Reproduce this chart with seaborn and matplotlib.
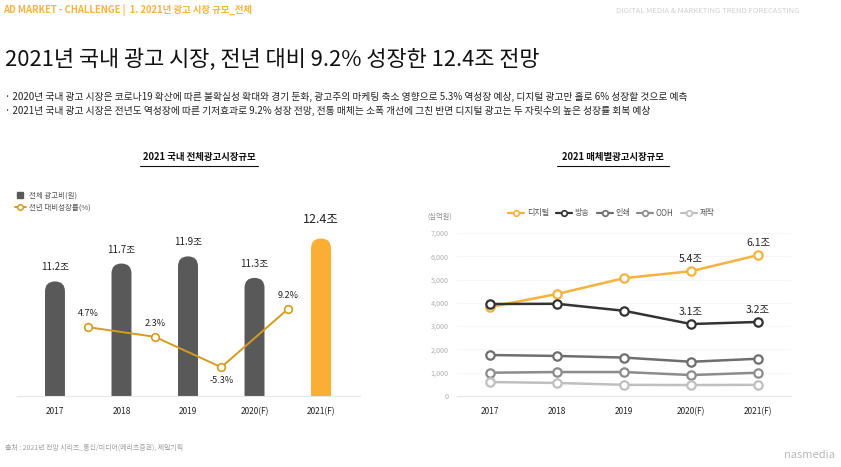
import numpy as np
import pandas as pd
import matplotlib
matplotlib.use('Agg')
from matplotlib import pyplot as plt
from matplotlib.patches import FancyBboxPatch
from matplotlib.lines import Line2D
import matplotlib.ticker as mtick
import seaborn as sns

# --- data ---
years = ['2017', '2018', '2019', '2020(F)', '2021(F)']
total_spend = [11.2, 11.7, 11.9, 11.3, 12.4]          # 조 원
total_labels = ['11.2조', '11.7조', '11.9조', '11.3조', '12.4조']
growth_years = ['2018', '2019', '2020(F)', '2021(F)']
growth_rate = [4.7, 2.3, -5.3, 9.2]                    # %
growth_labels = ['4.7%', '2.3%', '-5.3%', '9.2%']

media_names = ['디지털', '방송', '인쇄', 'OOH', '제작']
digital = [3820, 4380, 5060, 5360, 6050]
broadcast = [3950, 3960, 3660, 3090, 3180]
printed = [1760, 1720, 1650, 1470, 1600]
ooh = [1000, 1030, 1030, 900, 1000]
production = [600, 560, 480, 470, 480]
media_colors = ['#F5B23D', '#333333', '#6E6E6E', '#8C8C8C', '#BFBFBF']

W, H = 841, 467
sns.set_style('white')
plt.rcParams['font.family'] = ['Noto Sans CJK KR', 'DejaVu Sans']

fig = plt.figure(figsize=(W / 100, H / 100), dpi=100)
fig.patch.set_facecolor('white')


def px_axes(x0, x1, ytop, ybot):
    return fig.add_axes([x0 / W, 1 - ybot / H, (x1 - x0) / W, (ybot - ytop) / H])


def ftext(x, y, s, **kw):
    fig.text(x / W, 1 - y / H, s, **kw)


# --- header texts ---
ftext(3, 10, 'AD MARKET - CHALLENGE |  1. 2021년 광고 시장 규모_전체', fontsize=6.8,
      color='#F2B441', fontweight='bold', va='center')
ftext(800, 11, 'DIGITAL MEDIA & MARKETING TREND FORECASTING', fontsize=5.5,
      color='#D0D0D0', va='center', ha='right')
ftext(5, 60, '2021년 국내 광고 시장, 전년 대비 9.2% 성장한 12.4조 전망', fontsize=15.8,
      color='#111111', va='center')
ftext(5, 97, '· 2020년 국내 광고 시장은 코로나19 확산에 따른 불확실성 확대와 경기 둔화, 광고주의 마케팅 축소 영향으로 5.3% 역성장 예상, '
      '디지털 광고만 홀로 6% 성장할 것으로 예측', fontsize=7.0, color='#222222', va='center')
ftext(5, 111, '· 2021년 국내 광고 시장은 전년도 역성장에 따른 기저효과로 9.2% 성장 전망, 전통 매체는 소폭 개선에 그친 반면 '
      '디지털 광고는 두 자릿수의 높은 성장률 회복 예상', fontsize=7.0, color='#222222', va='center')
ftext(5, 448, '출처 : 2021년 전망 시리즈_통신/미디어(메리츠증권), 제일기획', fontsize=5,
      color='#A0A0A0', va='center')
ftext(835, 455, 'nasmedia', fontsize=8, color='#B8B8B8', va='center', ha='right')

# sub titles with underline
for cx, x0, x1, title in [(199, 140, 258, '2021 국내 전체광고시장규모'),
                          (613, 557, 669, '2021 매체별광고시장규모')]:
    ftext(cx, 157, title, fontsize=6.8, fontweight='bold', color='#111111',
          ha='center', va='center')
    fig.add_artist(Line2D([x0 / W, x1 / W], [1 - 166 / H, 1 - 166 / H],
                          color='#111111', lw=0.8))

# --- left chart: total ad spend bars ---
ax1 = px_axes(17, 360, 200, 396)
bar_df = pd.DataFrame({'year': years, 'spend': total_spend})
bar_colors = ['#595959'] * 4 + ['#FBAE34']
sns.barplot(data=bar_df, x='year', y='spend', hue='year', palette=bar_colors,
            width=0.3, saturation=1, legend=False, ax=ax1)
ax1.set_xlim(-0.571, 4.586)
ax1.set_ylim(8, 8 + 196 / 35.8)

# turn the bars into rounded-top bars
y_per_px = 1 / 35.8
x_per_px = 1 / 66.5
for p in list(ax1.patches):
    x, w, h = p.get_x(), p.get_width(), p.get_height()
    fc = p.get_facecolor()
    p.remove()
    r = w / 2
    fb = FancyBboxPatch((x, 7.0), w, h - 7.0, boxstyle=f'round,pad=0,rounding_size={r}',
                        mutation_aspect=y_per_px / x_per_px, fc=fc, ec='none', zorder=2)
    ax1.add_patch(fb)

for i, (v, lab) in enumerate(zip(total_spend, total_labels)):
    big = i == len(total_spend) - 1
    ax1.text(i, v + (12 if big else 9) * y_per_px, lab, ha='center', va='bottom',
             fontsize=9 if big else 7, color='#222222', clip_on=False)

ax1.set_xlabel('')
ax1.set_ylabel('')
ax1.set_yticks([])
ax1.tick_params(axis='x', length=0, labelsize=6, colors='#222222', pad=8)
for s in ['top', 'right', 'left']:
    ax1.spines[s].set_visible(False)
ax1.spines['bottom'].set_color('#E6E6E6')
ax1.spines['bottom'].set_linewidth(0.8)
ax1.patch.set_alpha(0)

# growth-rate line on a twin axis
ax1b = ax1.twinx()
pos = [years.index(y) - 0.5 for y in growth_years]
gr_df = pd.DataFrame({'pos': pos, 'rate': growth_rate})
sns.lineplot(data=gr_df, x='pos', y='rate', ax=ax1b, color='#D49C1E', lw=1.4,
             marker='o', markersize=5.5, markerfacecolor='white',
             markeredgecolor='#D49C1E', markeredgewidth=1.2, zorder=4)
ax1b.set_ylim(-12.5, 36.5)
ax1b.set_xlim(-0.571, 4.586)
for xp, v, lab in zip(pos, growth_rate, growth_labels):
    if v < 0:
        ax1b.text(xp, v - 2.3, lab, ha='center', va='top', fontsize=6.5, color='#222222')
    else:
        ax1b.text(xp, v + 2.3, lab, ha='center', va='bottom', fontsize=6.5,
                  color='#222222')
ax1b.axis('off')

# left legend
h1 = Line2D([], [], marker='s', ls='none', color='#595959', markersize=5)
h2 = Line2D([], [], marker='o', color='#D49C1E', lw=1.4, markersize=4,
            markerfacecolor='white', markeredgewidth=1.1)
fig.legend([h1, h2], ['전체 광고비(원)', '전년 대비성장률(%)'],
           loc='upper left', bbox_to_anchor=(12 / W, 1 - 189 / H), frameon=False,
           fontsize=5.4, labelcolor='#555555', handlelength=1.4, handletextpad=0.5,
           labelspacing=0.5, borderaxespad=0)

# --- right chart: ad spend by media ---
ax2 = px_axes(457, 791, 226, 396)
media_df = pd.DataFrame({
    'pos': list(range(len(years))) * 5,
    'value': digital + broadcast + printed + ooh + production,
    'media': np.repeat(media_names, len(years)),
})
sns.lineplot(data=media_df, x='pos', y='value', hue='media', hue_order=media_names,
             palette=media_colors, marker='o', markersize=6, markerfacecolor='white',
             markeredgewidth=1.6, lw=1.8, legend=False, ax=ax2)
# match marker edges to line colours
for line, c in zip(ax2.get_lines(), media_colors):
    line.set_markeredgecolor(c)
ax2.set_xlim(-0.49, 4.49)
ax2.set_ylim(0, 7300)
ax2.set_xticks(range(len(years)))
ax2.set_xticklabels(years)
ax2.set_yticks(range(0, 7001, 1000))
ax2.yaxis.set_major_formatter(mtick.StrMethodFormatter('{x:,.0f}'))
ax2.tick_params(axis='y', length=0, labelsize=5.2, colors='#B0B0B0', pad=6)
ax2.tick_params(axis='x', length=0, labelsize=6, colors='#222222', pad=8)
ax2.grid(axis='y', color='#F6F6F6', lw=0.6)
ax2.set_xlabel('')
ax2.set_ylabel('')
for s in ['top', 'right', 'left']:
    ax2.spines[s].set_visible(False)
ax2.spines['bottom'].set_color('#E6E6E6')
ax2.spines['bottom'].set_linewidth(0.8)

for xi, v, lab in [(3, digital[3], '5.4조'), (4, digital[4], '6.1조'),
                   (3, broadcast[3], '3.1조'), (4, broadcast[4], '3.2조')]:
    ax2.text(xi, v + 300, lab, ha='center', va='bottom', fontsize=7.5, color='#222222')

ftext(440, 217, '(십억원)', fontsize=5.2, color='#888888', va='center', ha='center')

handles = [Line2D([], [], color=c, marker='o', lw=1.6, markersize=4,
                  markerfacecolor='white', markeredgewidth=1.2) for c in media_colors]
fig.legend(handles, media_names, loc='center left', ncol=5,
           bbox_to_anchor=(505 / W, 1 - 213 / H), frameon=False, fontsize=5.8,
           labelcolor='#555555', handlelength=2.0, handletextpad=0.3,
           columnspacing=0.9, borderaxespad=0)

fig.savefig('out.png', dpi=100)
